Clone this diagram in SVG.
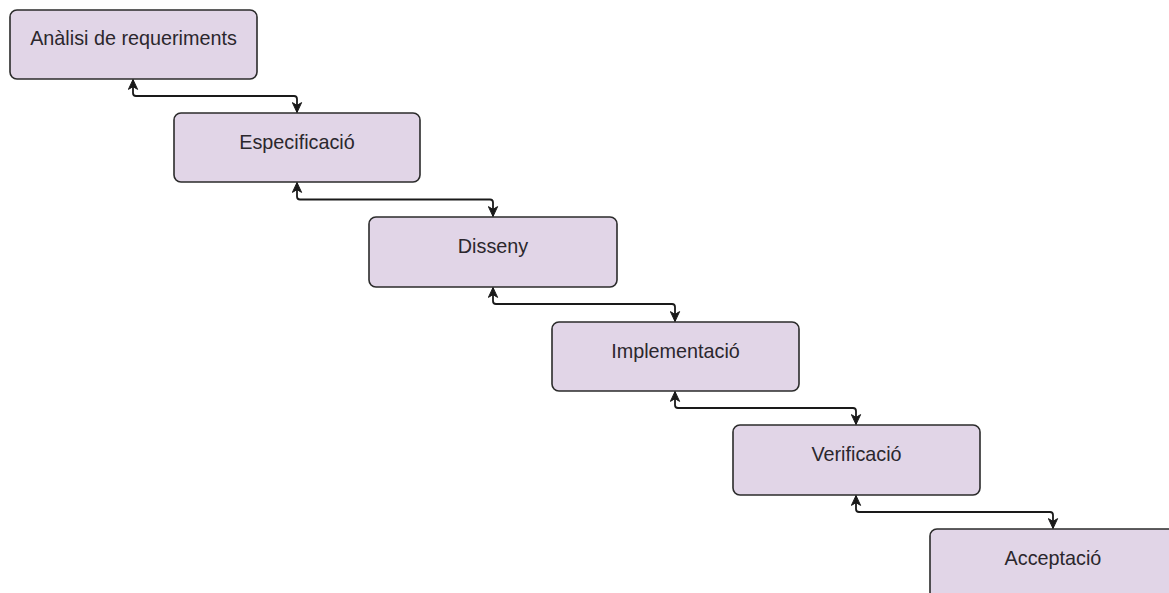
<svg xmlns="http://www.w3.org/2000/svg" width="1169" height="593" viewBox="0 0 1169 593">
  <style>
    .box { fill: #e1d5e7; stroke: #2b2b2b; stroke-width: 1.6; }
    .label { font-family: "Liberation Sans", Arial, sans-serif; font-size: 19.8px; fill: #2b272d; text-anchor: middle; }
    .link { fill: none; stroke: #1a1a1a; stroke-width: 1.8; stroke-linejoin: round; marker-start: url(#arrow); marker-end: url(#arrow); }
  </style>
  <defs>
    <!-- notched classic arrowhead, used at both ends of each link -->
    <marker id="arrow" viewBox="0 0 10 10" markerWidth="11" markerHeight="11" refX="9.5" refY="5" orient="auto-start-reverse" markerUnits="userSpaceOnUse">
      <path d="M0.5,0.8 L9.5,5 L0.5,9.2 L3,5 Z" fill="#1a1a1a" stroke="#1a1a1a" stroke-width="0.9" stroke-linejoin="miter"/>
    </marker>
  </defs>
  <rect width="1169" height="593" fill="#ffffff"/>

  <g id="connectors">
    <path class="link" d="M133,79.5 V93 Q133,96 136,96 H294 Q297,96 297,99 V112.5"/>
    <path class="link" d="M297,182.5 V196.5 Q297,199.5 300,199.5 H490 Q493,199.5 493,202.5 V216.5"/>
    <path class="link" d="M493,287.5 V301 Q493,304 496,304 H672 Q675,304 675,307 V321.5"/>
    <path class="link" d="M675,391.5 V405 Q675,408 678,408 H853 Q856,408 856,411 V424.5"/>
    <path class="link" d="M856,495.5 V509 Q856,512 859,512 H1050 Q1053,512 1053,515 V528.5"/>
  </g>

  <g id="node-analisi">
    <rect class="box" x="10" y="10" width="247" height="69" rx="7"/>
    <text class="label" x="133.5" y="45">Anàlisi de requeriments</text>
  </g>
  <g id="node-especificacio">
    <rect class="box" x="174" y="113" width="246" height="69" rx="7"/>
    <text class="label" x="297" y="149">Especificació</text>
  </g>
  <g id="node-disseny">
    <rect class="box" x="369" y="217" width="248" height="70" rx="7"/>
    <text class="label" x="493" y="253">Disseny</text>
  </g>
  <g id="node-implementacio">
    <rect class="box" x="552" y="322" width="247" height="69" rx="7"/>
    <text class="label" x="675.5" y="358">Implementació</text>
  </g>
  <g id="node-verificacio">
    <rect class="box" x="733" y="425" width="247" height="70" rx="7"/>
    <text class="label" x="856.5" y="461">Verificació</text>
  </g>
  <g id="node-acceptacio">
    <rect class="box" x="930" y="529" width="246" height="70" rx="7"/>
    <text class="label" x="1053" y="565">Acceptació</text>
  </g>
</svg>
